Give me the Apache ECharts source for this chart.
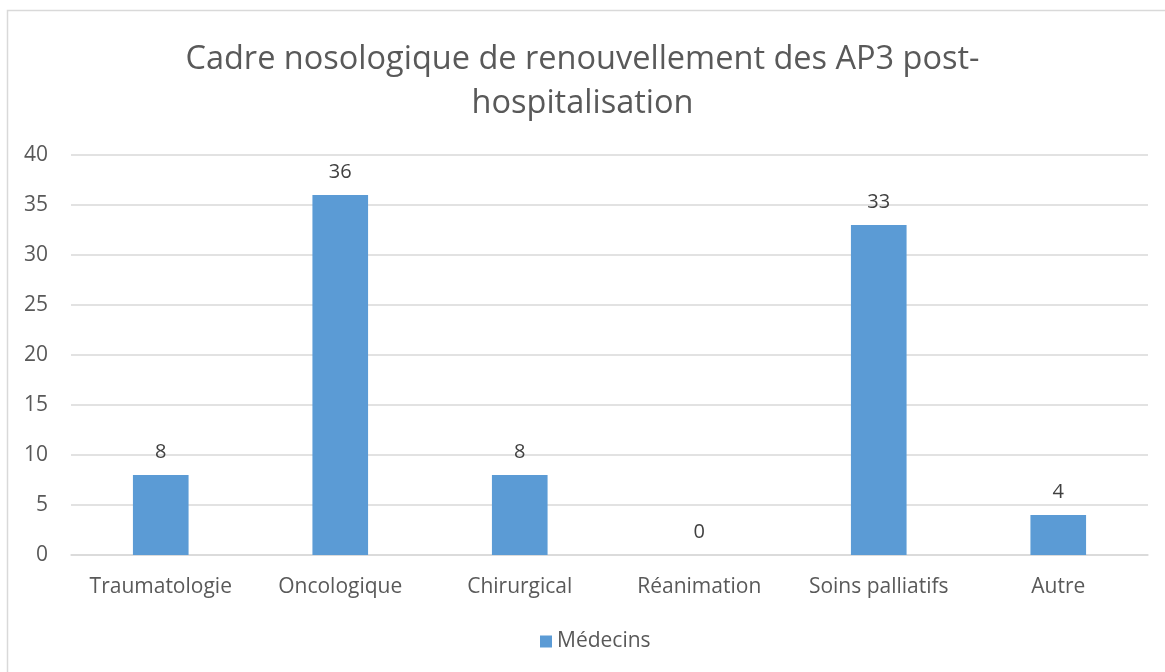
<!DOCTYPE html>
<html>
<head>
<meta charset="utf-8">
<title>Cadre nosologique</title>
<script src="https://cdn.jsdelivr.net/npm/echarts@6/dist/echarts.min.js"></script>
<style>
  html, body { margin: 0; padding: 0; background: #fff; }
  #main { width: 1165px; height: 672px; }
</style>
</head>
<body>
<div id="main"></div>
<script>
// données du graphique
var categories = ['Traumatologie', 'Oncologique', 'Chirurgical', 'Réanimation', 'Soins palliatifs', 'Autre'];
var medecins = [8, 36, 8, 0, 33, 4];
var seriesName = 'Médecins';

var chart = echarts.init(document.getElementById('main'));

var font = '"Open Sans", "Noto Sans", sans-serif';

var option = {
  animation: false,
  textStyle: { fontFamily: font },
  title: {
    text: 'Cadre nosologique de renouvellement des AP3 post-\nhospitalisation',
    left: 'center',
    top: 33,
    textStyle: { fontFamily: font, fontSize: 32.5, fontWeight: 'normal', color: '#595959', lineHeight: 44 }
  },
  // cadre gris autour du graphique
  graphic: [{
    type: 'rect',
    shape: { x: 7.5, y: 10.5, width: 1170, height: 700 },
    style: { fill: 'none', stroke: '#d9d9d9', lineWidth: 1.5 },
    silent: true
  }],
  legend: {
    data: [seriesName],
    bottom: 15,
    left: 535,
    itemWidth: 12,
    itemHeight: 12,
    icon: 'rect',
    itemGap: 6,
    textStyle: { fontFamily: font, fontSize: 21, color: '#595959' }
  },
  grid: { left: 71, right: 17, top: 155, bottom: 117 },
  xAxis: {
    type: 'category',
    data: categories,
    axisTick: { show: false },
    axisLine: { lineStyle: { color: '#d9d9d9', width: 1.5 } },
    axisLabel: { interval: 0, fontFamily: font, fontSize: 21, color: '#595959', margin: 22 }
  },
  yAxis: {
    type: 'value',
    min: 0,
    max: 40,
    interval: 5,
    axisLine: { show: false },
    axisTick: { show: false },
    splitLine: { lineStyle: { color: '#d9d9d9', width: 1.5 } },
    axisLabel: { fontFamily: font, fontSize: 21, color: '#595959', margin: 23 }
  },
  series: [{
    name: seriesName,
    type: 'bar',
    data: medecins,
    barWidth: '31%',
    itemStyle: { color: '#5b9bd5' },
    label: {
      show: true,
      position: 'top',
      distance: 13,
      fontFamily: font,
      fontSize: 20,
      color: '#404040'
    }
  }]
};

chart.setOption(option);
</script>
</body>
</html>
